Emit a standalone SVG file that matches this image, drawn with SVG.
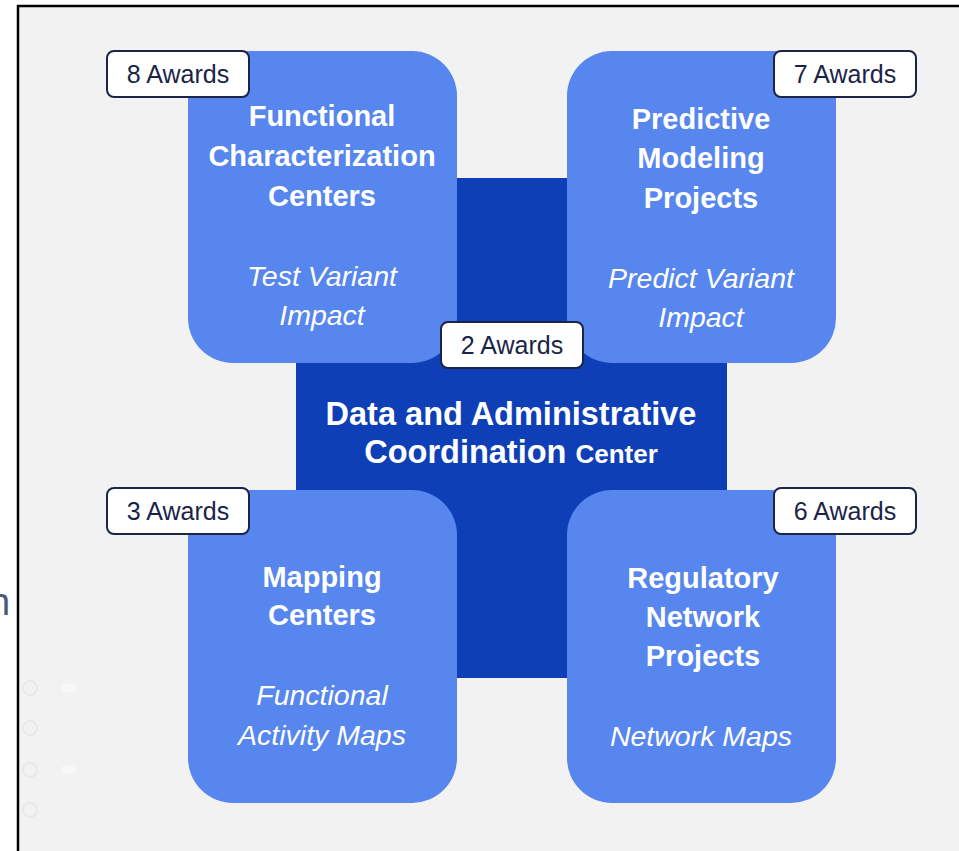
<svg xmlns="http://www.w3.org/2000/svg" width="959" height="851" viewBox="0 0 959 851">
<style>
.box{fill:#5786ee}
.core{fill:#0f3fb6}
.badge{fill:#ffffff;stroke:#1c2448;stroke-width:2}
.bt{font-family:"Liberation Sans",Arial,sans-serif;font-size:25px;fill:#1a2448;text-anchor:middle}
.ttl{font-family:"Liberation Sans",Arial,sans-serif;font-size:29px;font-weight:bold;fill:#ffffff;text-anchor:middle}
.sub{font-family:"Liberation Sans",Arial,sans-serif;font-size:28.5px;font-style:italic;fill:#ffffff;text-anchor:middle}
.ctr{font-family:"Liberation Sans",Arial,sans-serif;font-size:32.5px;font-weight:bold;fill:#ffffff;text-anchor:middle}
.faint{fill:none;stroke:#e6e6e6;stroke-width:1.5}
</style>
<rect x="0" y="0" width="959" height="851" fill="#ffffff"/>
<rect x="18" y="6" width="960" height="860" fill="#f2f2f2" stroke="#000000" stroke-width="2.5"/>
<text x="-11" y="615" font-family="'Liberation Sans',Arial,sans-serif" font-size="38" fill="#4a5b7a">n</text>
<g id="decor">
<circle class="faint" cx="30" cy="688" r="7"/>
<circle class="faint" cx="30" cy="728" r="7"/>
<circle class="faint" cx="30" cy="770" r="7"/>
<circle class="faint" cx="30" cy="810" r="7"/>
<rect x="62" y="684" width="14" height="8" fill="#f7f7f7"/>
<rect x="62" y="766" width="14" height="8" fill="#f7f7f7"/>
</g>
<g id="connectors"></g>
<g id="dacc">
<rect class="core" x="296" y="178" width="431" height="500"/>
</g>
<g id="functional-characterization">
<rect class="box" x="188" y="51" width="269" height="312" rx="45"/>
<text class="ttl" x="322" y="126">Functional</text>
<text class="ttl" x="322" y="166">Characterization</text>
<text class="ttl" x="322" y="206">Centers</text>
<text class="sub" x="322" y="286">Test Variant</text>
<text class="sub" x="322" y="325">Impact</text>
</g>
<g id="predictive-modeling">
<rect class="box" x="567" y="51" width="269" height="312" rx="45"/>
<text class="ttl" x="701" y="129">Predictive</text>
<text class="ttl" x="701" y="168">Modeling</text>
<text class="ttl" x="701" y="208">Projects</text>
<text class="sub" x="701" y="288">Predict Variant</text>
<text class="sub" x="701" y="327">Impact</text>
</g>
<g id="mapping-centers">
<rect class="box" x="188" y="490" width="269" height="313" rx="45"/>
<text class="ttl" x="322" y="587">Mapping</text>
<text class="ttl" x="322" y="625">Centers</text>
<text class="sub" x="322" y="705">Functional</text>
<text class="sub" x="322" y="745">Activity Maps</text>
</g>
<g id="regulatory-network">
<rect class="box" x="567" y="490" width="269" height="313" rx="45"/>
<text class="ttl" x="703" y="588">Regulatory</text>
<text class="ttl" x="703" y="627">Network</text>
<text class="ttl" x="703" y="666">Projects</text>
<text class="sub" x="701" y="746">Network Maps</text>
</g>
<g id="dacc-label">
<text class="ctr" x="511" y="425">Data and Administrative</text>
<text class="ctr" x="511" y="463">Coordination <tspan font-size="26">Center</tspan></text>
</g>
<g id="badge-8">
<rect class="badge" x="107" y="51" width="142" height="46" rx="7"/>
<text class="bt" x="178" y="83">8 Awards</text>
</g>
<g id="badge-7">
<rect class="badge" x="774" y="51" width="142" height="46" rx="7"/>
<text class="bt" x="845" y="83">7 Awards</text>
</g>
<g id="badge-2">
<rect class="badge" x="441" y="322" width="142" height="46" rx="7"/>
<text class="bt" x="512" y="354">2 Awards</text>
</g>
<g id="badge-3">
<rect class="badge" x="107" y="488" width="142" height="46" rx="7"/>
<text class="bt" x="178" y="520">3 Awards</text>
</g>
<g id="badge-6">
<rect class="badge" x="774" y="488" width="142" height="46" rx="7"/>
<text class="bt" x="845" y="520">6 Awards</text>
</g>
</svg>
